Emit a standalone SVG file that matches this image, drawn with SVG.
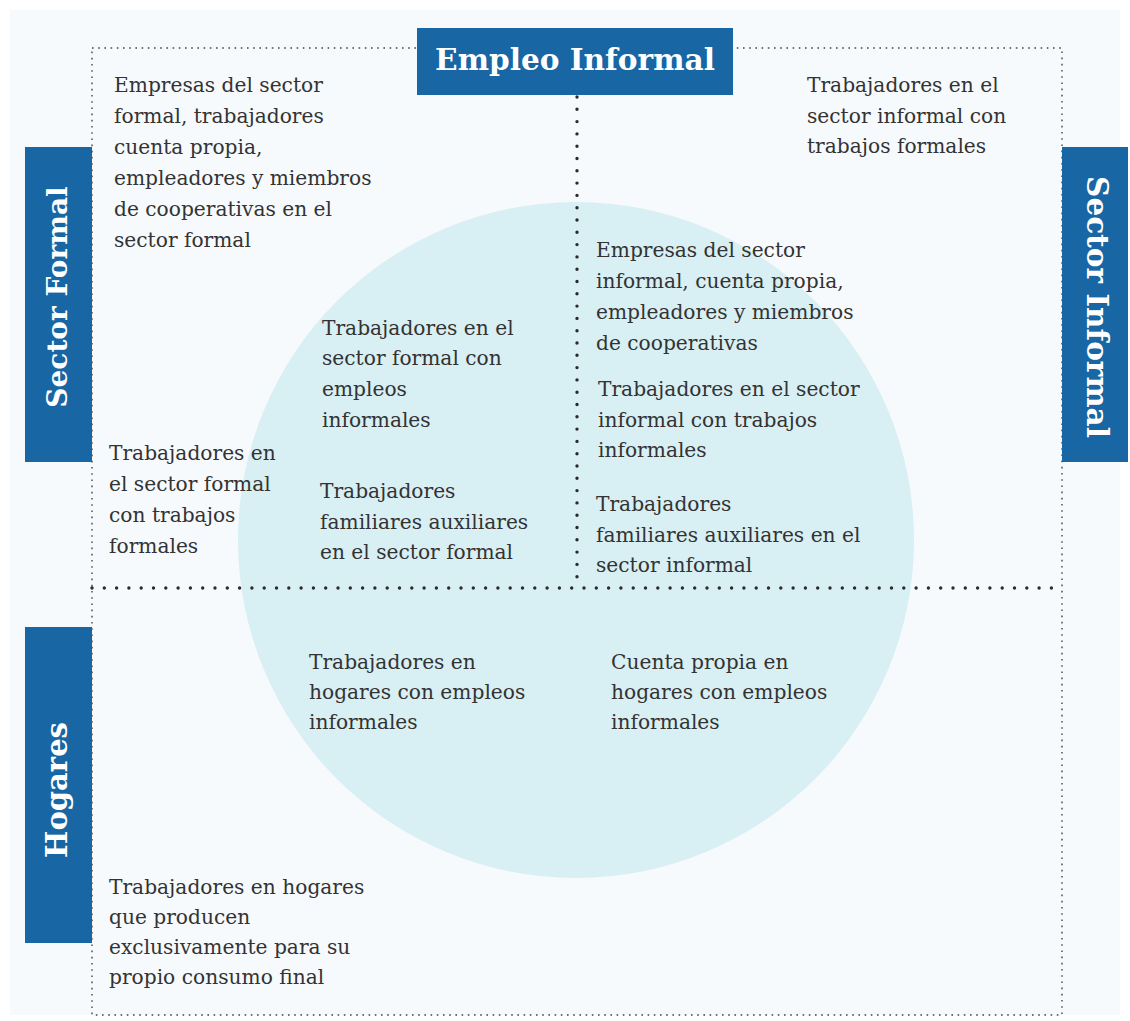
<svg xmlns="http://www.w3.org/2000/svg" width="1130" height="1021" viewBox="0 0 1130 1021">
<defs>
<style>
.bg{fill:#f7fafd}
.circle{fill:#d8eff3}
.box{fill:#1866a4}
.hd{fill:#ffffff;font-family:"DejaVu Serif","Liberation Serif",serif;font-weight:bold;text-anchor:middle}
.t{fill:#333333;font-family:"DejaVu Serif","Liberation Serif",serif;font-size:20.2px}
.thin{fill:none;stroke:#444;stroke-width:1.4;stroke-dasharray:1.6 4.6}
.thick{fill:none;stroke:#2a2a2a;stroke-width:3.4;stroke-linecap:round;stroke-dasharray:0 12.3}
</style>
</defs>
<rect width="1130" height="1021" fill="#ffffff"/>
<rect class="bg" x="10" y="10" width="1110" height="1005"/>
<circle class="circle" cx="576" cy="540" r="338"/>
<g id="connectors">
<rect class="thin" x="92" y="48" width="970" height="967"/>
<line class="thick" x1="92" y1="588" x2="1062" y2="588"/>
<line class="thick" x1="577" y1="97" x2="577" y2="588"/>
</g>
<g id="empleo-informal">
<rect class="box" x="417" y="28" width="316" height="67"/>
<text class="hd" x="575" y="70" font-size="29.6">Empleo Informal</text>
</g>
<g id="sector-formal">
<rect class="box" x="25" y="147" width="67" height="315"/>
<text class="hd" font-size="28" transform="translate(67,297) rotate(-90)">Sector Formal</text>
</g>
<g id="sector-informal">
<rect class="box" x="1062" y="147" width="66" height="315"/>
<text class="hd" font-size="29.5" transform="translate(1087,307) rotate(90)">Sector Informal</text>
</g>
<g id="hogares">
<rect class="box" x="25" y="627" width="67" height="316"/>
<text class="hd" font-size="29" transform="translate(67,790) rotate(-90)">Hogares</text>
</g>
<g id="n-empresas-formal">
<text class="t"><tspan x="114" y="92">Empresas del sector</tspan><tspan x="114" y="123">formal, trabajadores</tspan><tspan x="114" y="154">cuenta propia,</tspan><tspan x="114" y="185">empleadores y miembros</tspan><tspan x="114" y="216">de cooperativas en el</tspan><tspan x="114" y="247">sector formal</tspan></text>
</g>
<g id="n-informal-formales">
<text class="t"><tspan x="807" y="92">Trabajadores en el</tspan><tspan x="807" y="123">sector informal con</tspan><tspan x="807" y="153">trabajos formales</tspan></text>
</g>
<g id="n-empresas-informal">
<text class="t"><tspan x="596" y="257">Empresas del sector</tspan><tspan x="596" y="288">informal, cuenta propia,</tspan><tspan x="596" y="319">empleadores y miembros</tspan><tspan x="596" y="350">de cooperativas</tspan></text>
</g>
<g id="n-informal-informales">
<text class="t"><tspan x="598" y="396">Trabajadores en el sector</tspan><tspan x="598" y="427">informal con trabajos</tspan><tspan x="598" y="457">informales</tspan></text>
</g>
<g id="n-familiares-informal">
<text class="t"><tspan x="596" y="511">Trabajadores</tspan><tspan x="596" y="542">familiares auxiliares en el</tspan><tspan x="596" y="572">sector informal</tspan></text>
</g>
<g id="n-formal-informales">
<text class="t"><tspan x="322" y="335">Trabajadores en el</tspan><tspan x="322" y="365">sector formal con</tspan><tspan x="322" y="396">empleos</tspan><tspan x="322" y="427">informales</tspan></text>
</g>
<g id="n-familiares-formal">
<text class="t"><tspan x="320" y="498">Trabajadores</tspan><tspan x="320" y="529">familiares auxiliares</tspan><tspan x="320" y="559">en el sector formal</tspan></text>
</g>
<g id="n-formal-formales">
<text class="t"><tspan x="109" y="460">Trabajadores en</tspan><tspan x="109" y="491">el sector formal</tspan><tspan x="109" y="522">con trabajos</tspan><tspan x="109" y="553">formales</tspan></text>
</g>
<g id="n-hogares-empleos">
<text class="t"><tspan x="309" y="669">Trabajadores en</tspan><tspan x="309" y="699">hogares con empleos</tspan><tspan x="309" y="729">informales</tspan></text>
</g>
<g id="n-cuenta-propia-hogares">
<text class="t"><tspan x="611" y="669">Cuenta propia en</tspan><tspan x="611" y="699">hogares con empleos</tspan><tspan x="611" y="729">informales</tspan></text>
</g>
<g id="n-consumo-final">
<text class="t"><tspan x="109" y="894">Trabajadores en hogares</tspan><tspan x="109" y="924">que producen</tspan><tspan x="109" y="954">exclusivamente para su</tspan><tspan x="109" y="984">propio consumo final</tspan></text>
</g>
</svg>
